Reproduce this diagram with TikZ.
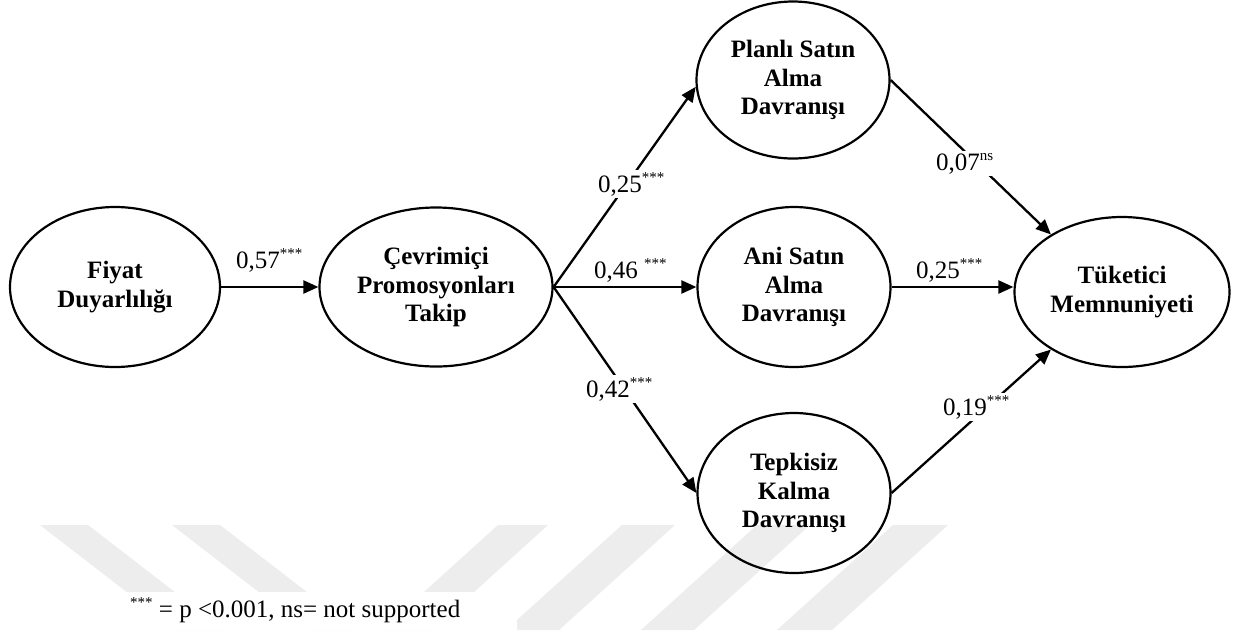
\documentclass[tikz,border=0pt]{standalone}
\usepackage{fontspec}
\setmainfont{Liberation Serif}
\usetikzlibrary{shapes.geometric,arrows.meta}
\definecolor{wmgray}{HTML}{EDEDED}
\newcommand{\sg}[1]{\raisebox{0.40em}{\fontsize{15}{15}\selectfont #1}}
\begin{document}
\begin{tikzpicture}[x=1pt,y=-1pt,
  lat/.style={draw, line width=2.2pt, ellipse, inner sep=0pt, align=center,
    font=\bfseries\fontsize{25}{28.8}\selectfont},
  arr/.style={line width=2.3pt, -{Triangle[length=15pt,width=13pt]}},
  lbl/.style={fill=white, inner sep=2pt, anchor=base west,
    font=\fontsize{25}{27}\selectfont},
  wm/.style={fill=wmgray}]
\fill[white] (0,0) rectangle (1242,630);
\useasboundingbox (0,0) rectangle (1242,630);
% watermark
\fill[wm] (40,525) -- (88,525) -- ++(136,105) -- ++(-48,0) -- cycle;
\fill[wm] (172,525) -- (220,525) -- ++(136,105) -- ++(-48,0) -- cycle;
\fill[wm] (498,525) -- (548,525) -- ++(-116,105) -- ++(-50,0) -- cycle;
\fill[wm] (622,525) -- (675,525) -- ++(-116,105) -- ++(-53,0) -- cycle;
\fill[wm] (757,525) -- (810,525) -- ++(-116,105) -- ++(-53,0) -- cycle;
\fill[wm] (893,525) -- (948,525) -- ++(-116,105) -- ++(-55,0) -- cycle;
% footnote box
\node[fill=white, anchor=north west, minimum width=392pt, minimum height=38pt, inner sep=0pt] (fnbox) at (125,592) {};
% latent variables
\node[lat, minimum width=210pt, minimum height=160pt] (fiy) at (115,287) {Fiyat\\Duyarlılığı};
\node[lat, minimum width=233pt, minimum height=159pt] (cev) at (436,287) {Çevrimiçi\\Promosyonları\\Takip};
\node[lat, minimum width=193pt, minimum height=157pt] (pla) at (793,80) {Planlı Satın\\Alma\\Davranışı};
\node[lat, minimum width=193pt, minimum height=160pt] (ani) at (794,287) {Ani Satın\\Alma\\Davranışı};
\node[lat, minimum width=193pt, minimum height=160pt] (tep) at (794,493) {Tepkisiz\\Kalma\\Davranışı};
\node[lat, minimum width=215pt, minimum height=150pt] (tuk) at (1122,292) {Tüketici\\Memnuniyeti};
% paths
\draw[arr] (fiy.east) -- (cev.west);
\draw[arr] (cev.east) -- (pla.184);
\draw[arr] (cev.east) -- (ani.west);
\draw[arr] (cev.east) -- (tep.west);
\draw[arr] (pla.east) -- (tuk.141);
\draw[arr] (ani.east) -- (ani.east -| tuk.west);
\draw[arr] (tep.east) -- (tuk.219);
% labels
\node[lbl] (l1) at (234,268) {0,57\sg{***}};
\node[lbl] (l2) at (596,192) {0,25\sg{***}};
\node[lbl] (l3) at (592,278) {0,46 \sg{***}};
\node[lbl] (l4) at (584,397) {0,42\sg{***}};
\node[lbl] (l5) at (934,170) {0,07\sg{ns}};
\node[lbl] (l6) at (914,278) {0,25\sg{***}};
\node[lbl] (l7) at (941,415) {0,19\sg{***}};
% footnote
\node[anchor=base west, inner sep=0pt, font=\fontsize{25}{27}\selectfont] (fn) at (130,617) {\sg{***} = p <0.001, ns= not supported};
\end{tikzpicture}
\end{document}
